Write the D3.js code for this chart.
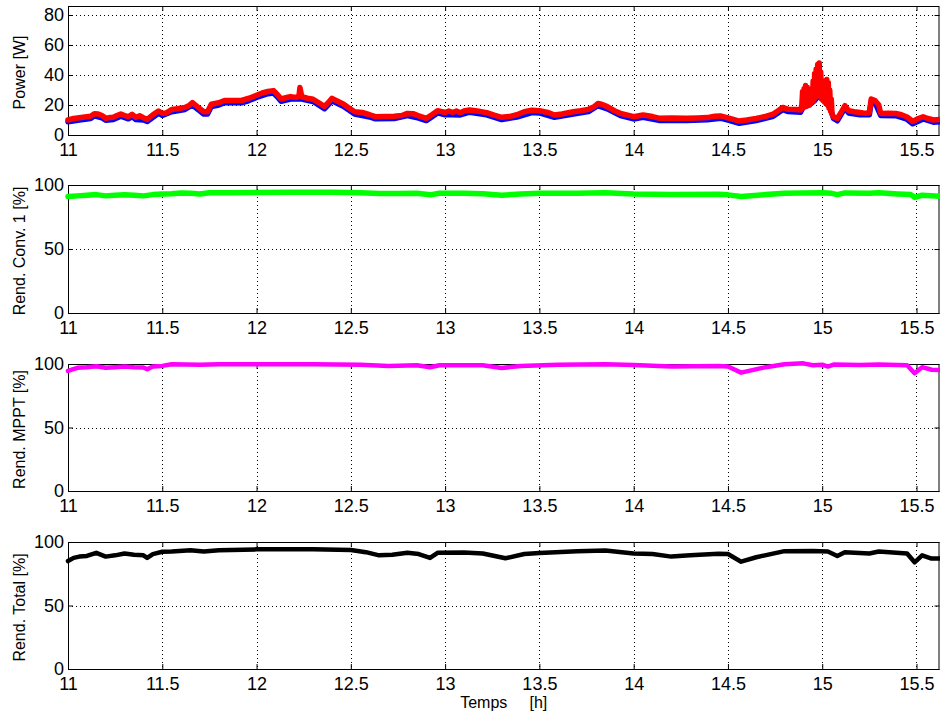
<!DOCTYPE html>
<html>
<head>
<meta charset="utf-8">
<script src="https://cdn.jsdelivr.net/npm/d3@7"></script>
<style>
  body { margin: 0; background: #fff; }
  svg { display: block; font-family: "Liberation Sans", Arial, sans-serif; }
  .tick text { font-size: 18px; fill: #000; }
  .grid line { stroke: #000; stroke-width: 1; stroke-dasharray: 1 3; }
  .ylabel, .xlabel { font-size: 16px; fill: #000; }
</style>
</head>
<body>
<div id="chart"></div>
<script>
// time [h], value
const powerIn = [
  [11.00, 10], [11.03, 11], [11.06, 11.5], [11.09, 12], [11.12, 12.5], [11.14, 14.2], [11.16, 14], [11.18, 13],
  [11.20, 11.2], [11.22, 11.6], [11.24, 11.8], [11.26, 13], [11.28, 14], [11.30, 13], [11.32, 12.2], [11.34, 13.8],
  [11.36, 11.8], [11.38, 12.8], [11.40, 11.5], [11.42, 10.4], [11.45, 13.5], [11.48, 16], [11.50, 14.5], [11.52, 14.6],
  [11.55, 17], [11.58, 17.5], [11.62, 18.4], [11.64, 19.5], [11.66, 21.6], [11.69, 18.5], [11.72, 15.5], [11.74, 15.5],
  [11.76, 20.5], [11.78, 21], [11.80, 21.5], [11.83, 23], [11.87, 23], [11.92, 23], [11.96, 24.5], [12.00, 26.5],
  [12.03, 28], [12.06, 29], [12.09, 29.6], [12.11, 27], [12.13, 24], [12.16, 25], [12.18, 25.6], [12.21, 25],
  [12.225, 26], [12.23, 31.6], [12.24, 25.5], [12.27, 24.5], [12.30, 23.8], [12.33, 21.5], [12.36, 19], [12.38, 21.5],
  [12.40, 24.4], [12.43, 22.5], [12.46, 20.7], [12.49, 18], [12.52, 15.5], [12.56, 15], [12.60, 13.5], [12.63, 12.2],
  [12.68, 12.3], [12.73, 12.5], [12.77, 13], [12.80, 14.4], [12.83, 14.2], [12.86, 12.8], [12.90, 11.1], [12.93, 13.5],
  [12.96, 16.2], [13.00, 15], [13.02, 16], [13.04, 15], [13.06, 16], [13.08, 14.9], [13.10, 16], [13.13, 16.7],
  [13.17, 16], [13.22, 14.9], [13.26, 13.2], [13.30, 11.8], [13.34, 12.3], [13.38, 13.5], [13.42, 15.5], [13.46, 16.5],
  [13.50, 16.2], [13.55, 14.8], [13.58, 13.3], [13.62, 14], [13.68, 15.5], [13.72, 16.2], [13.76, 17.1], [13.79, 18.8],
  [13.81, 21], [13.83, 20.5], [13.86, 18.9], [13.90, 16], [13.93, 14.4], [14.00, 12.2], [14.05, 13.3], [14.10, 12.3],
  [14.14, 11.1], [14.20, 11.3], [14.28, 11.1], [14.34, 11.4], [14.39, 11.6], [14.43, 12.5], [14.46, 12.7], [14.51, 11.1],
  [14.56, 9.3], [14.60, 10], [14.65, 11.1], [14.70, 12.4], [14.74, 14], [14.77, 16.5], [14.79, 18.4], [14.82, 17.1],
  [14.86, 17], [14.885, 16.7],
  [14.892, 20], [14.896, 29], [14.900, 18], [14.904, 31], [14.908, 19], [14.912, 33], [14.916, 19], [14.920, 32],
  [14.924, 20], [14.928, 31], [14.932, 20], [14.936, 30], [14.940, 21], [14.944, 30], [14.948, 22], [14.952, 36],
  [14.956, 23], [14.960, 41], [14.964, 25], [14.968, 44], [14.972, 26], [14.976, 47], [14.980, 27], [14.984, 48],
  [14.988, 26], [14.992, 42], [14.996, 24], [15.000, 35], [15.004, 23], [15.008, 34], [15.012, 22], [15.016, 36],
  [15.020, 21], [15.024, 37], [15.028, 20], [15.032, 35], [15.036, 18], [15.040, 30], [15.044, 16], [15.048, 24],
  [15.052, 14], [15.06, 12], [15.08, 11], [15.10, 15], [15.12, 19.5], [15.14, 16.2], [15.17, 15.5], [15.20, 15],
  [15.23, 14.4], [15.25, 15], [15.26, 24], [15.28, 23], [15.30, 20], [15.31, 14.5], [15.32, 14.4], [15.35, 14.5],
  [15.39, 14.4], [15.42, 13.5], [15.45, 12], [15.48, 9], [15.51, 11], [15.535, 12.2], [15.56, 11], [15.59, 10],
  [15.622, 10.4]
];

const powerOut = [
  [11.00, 8.8], [11.06, 10], [11.12, 11], [11.14, 12.8], [11.18, 11.5], [11.20, 9.8], [11.24, 10.3], [11.28, 12.5],
  [11.32, 10.8], [11.34, 12.3], [11.36, 10.3], [11.40, 10], [11.42, 9], [11.48, 14.5], [11.50, 13], [11.55, 15.5],
  [11.62, 17], [11.66, 20], [11.69, 17], [11.72, 14], [11.74, 14], [11.76, 19], [11.80, 20], [11.83, 21.5],
  [11.92, 21.5], [11.96, 23], [12.00, 25], [12.06, 27.5], [12.09, 28], [12.11, 25.5], [12.13, 22.5], [12.18, 24],
  [12.24, 24], [12.30, 22.3], [12.36, 17.5], [12.40, 22.8], [12.46, 19.2], [12.52, 14], [12.60, 12], [12.63, 10.8],
  [12.73, 11], [12.80, 12.9], [12.86, 11.3], [12.90, 9.6], [12.96, 14.7], [13.00, 13.5], [13.04, 13.5], [13.08, 13.4],
  [13.13, 15.2], [13.22, 13.4], [13.30, 10.3], [13.38, 12], [13.46, 15], [13.50, 14.7], [13.58, 11.8], [13.68, 14],
  [13.76, 15.6], [13.81, 19.5], [13.86, 17.4], [13.93, 12.9], [14.00, 10.7], [14.05, 11.8], [14.14, 9.6], [14.28, 9.6],
  [14.39, 10.1], [14.46, 11.2], [14.51, 9.6], [14.56, 7.8], [14.65, 9.6], [14.74, 12.5], [14.79, 16.9], [14.82, 15.6],
  [14.885, 15.2], [14.90, 19], [14.93, 20], [14.96, 23], [14.985, 27], [15.01, 23], [15.04, 19], [15.06, 11],
  [15.08, 9.5], [15.12, 18], [15.14, 14.7], [15.20, 13.5], [15.25, 13.5], [15.26, 22.5], [15.28, 21.5], [15.31, 13],
  [15.39, 12.9], [15.45, 10.5], [15.48, 7.5], [15.535, 10.7], [15.59, 8.5], [15.622, 8.9]
];

const rendConv1 = [
  [11.00, 91], [11.05, 91.5], [11.10, 92], [11.15, 92.5], [11.20, 91.5], [11.25, 92], [11.30, 92.3], [11.35, 92],
  [11.40, 91.5], [11.45, 92.5], [11.50, 93], [11.55, 93.2], [11.60, 93.8], [11.65, 93.5], [11.70, 93], [11.75, 94],
  [11.85, 94], [12.00, 94.2], [12.20, 94.3], [12.40, 94.3], [12.55, 94], [12.65, 93.3], [12.75, 93.3], [12.85, 93.5],
  [12.92, 92.3], [12.97, 93.5], [13.10, 93.5], [13.20, 93.2], [13.30, 92], [13.40, 93], [13.50, 93.5], [13.70, 93.5],
  [13.85, 94], [14.00, 93], [14.20, 92.5], [14.45, 92.8], [14.50, 92.3], [14.57, 91], [14.70, 92.5], [14.80, 93.5],
  [14.90, 93.8], [15.00, 94], [15.05, 93.5], [15.08, 92.5], [15.12, 93.8], [15.25, 93.5], [15.30, 94], [15.40, 93],
  [15.47, 92.5], [15.49, 90.3], [15.53, 92], [15.60, 91.5], [15.622, 91.3]
];

const rendMPPT = [
  [11.00, 94.5], [11.02, 95.5], [11.05, 97], [11.10, 97.5], [11.15, 98.2], [11.20, 97], [11.25, 97.5], [11.30, 98],
  [11.35, 97.5], [11.40, 97.3], [11.42, 95.8], [11.45, 98], [11.50, 98.5], [11.55, 99.8], [11.70, 99.5], [11.80, 99.8],
  [12.00, 99.8], [12.30, 99.8], [12.55, 99.5], [12.70, 98.5], [12.85, 99], [12.92, 97.5], [12.97, 99], [13.20, 99],
  [13.30, 96.8], [13.40, 98.5], [13.60, 99.5], [13.85, 99.8], [14.00, 99.2], [14.20, 98], [14.45, 98.5], [14.50, 98],
  [14.57, 93.2], [14.70, 97.5], [14.80, 99.8], [14.90, 100.5], [14.95, 99], [15.00, 99.5], [15.03, 98], [15.06, 99.6],
  [15.20, 99.3], [15.30, 99.6], [15.45, 99], [15.49, 92.7], [15.53, 97.5], [15.58, 95.5], [15.622, 95.3]
];

const rendTotal = [
  [11.00, 85], [11.03, 87.5], [11.06, 88.5], [11.10, 89], [11.15, 91.5], [11.20, 88.5], [11.25, 89.5], [11.30, 91],
  [11.35, 90], [11.40, 89.5], [11.42, 87.5], [11.45, 90.5], [11.50, 92.3], [11.55, 92.5], [11.65, 93.5], [11.72, 92.5],
  [11.80, 93.5], [12.00, 94.2], [12.30, 94.3], [12.50, 93.7], [12.58, 92], [12.65, 89.5], [12.72, 90], [12.80, 91.5],
  [12.86, 90.5], [12.92, 87.5], [12.96, 91.5], [13.10, 91.8], [13.20, 91], [13.32, 87.2], [13.42, 90.5], [13.50, 91.3],
  [13.70, 92.8], [13.85, 93.3], [14.00, 91], [14.10, 90.5], [14.20, 88.5], [14.30, 89.5], [14.45, 90.8], [14.50, 90.5],
  [14.57, 84.5], [14.65, 88], [14.80, 92.8], [14.95, 93], [15.03, 92.5], [15.08, 89], [15.12, 92], [15.25, 91],
  [15.30, 92.5], [15.45, 91], [15.49, 84], [15.53, 89.5], [15.58, 87], [15.622, 87]
];

const xTicks = [11, 11.5, 12, 12.5, 13, 13.5, 14, 14.5, 15, 15.5];
const xDomain = [11, 15.622];

const panels = [
  { label: 'Power [W]', top: 6, bottom: 135, yMax: 86, yTicks: [0, 20, 40, 60, 80],
    series: [{ data: powerOut, color: '#0000ff', width: 5.5 }, { data: powerIn, color: '#ff0000', width: 5.5 }] },
  { label: 'Rend. Conv. 1 [%]', top: 185, bottom: 313, yMax: 100, yTicks: [0, 50, 100],
    series: [{ data: rendConv1, color: '#00ff00', width: 5.5 }] },
  { label: 'Rend. MPPT [%]', top: 364, bottom: 491, yMax: 100, yTicks: [0, 50, 100],
    series: [{ data: rendMPPT, color: '#ff00ff', width: 4.5 }] },
  { label: 'Rend. Total [%]', top: 542, bottom: 669, yMax: 100, yTicks: [0, 50, 100],
    series: [{ data: rendTotal, color: '#000000', width: 4.5 }] }
];

const width = 940, height = 713;
const left = 68, right = 939.5;

const svg = d3.select('#chart').append('svg')
    .attr('width', width)
    .attr('height', height);

svg.append('rect').attr('width', width).attr('height', height).attr('fill', '#fff');

const x = d3.scaleLinear().domain(xDomain).range([left, right]);

panels.forEach(p => {
    const y = d3.scaleLinear().domain([0, p.yMax]).range([p.bottom, p.top]);
    const g = svg.append('g');

    // dotted grid
    const grid = g.append('g').attr('class', 'grid');
    grid.selectAll('.gx').data(xTicks.filter(t => t > xDomain[0])).enter()
        .append('line')
        .attr('x1', d => Math.round(x(d)) + 0.5).attr('x2', d => Math.round(x(d)) + 0.5)
        .attr('y1', p.top).attr('y2', p.bottom);
    grid.selectAll('.gy').data(p.yTicks.filter(t => t > 0 && t < p.yMax)).enter()
        .append('line')
        .attr('x1', left).attr('x2', right)
        .attr('y1', d => Math.round(y(d)) + 0.5).attr('y2', d => Math.round(y(d)) + 0.5);

    // box
    g.append('rect')
        .attr('x', left + 0.5).attr('y', p.top + 0.5)
        .attr('width', right - left - 1).attr('height', p.bottom - p.top)
        .attr('fill', 'none').attr('stroke', '#000').attr('stroke-width', 1);

    // axes, ticks pointing inward
    const xAxis = g.append('g')
        .attr('transform', 'translate(0,' + p.bottom + ')')
        .call(d3.axisBottom(x).tickValues(xTicks).tickSize(-5).tickFormat(d3.format('')));
    xAxis.select('.domain').remove();
    xAxis.selectAll('.tick text').attr('dy', '0.71em').attr('y', 8);

    g.append('g')
        .attr('transform', 'translate(0,' + p.top + ')')
        .call(d3.axisTop(x).tickValues(xTicks).tickSize(-5).tickFormat(''))
        .select('.domain').remove();

    const yAxis = g.append('g')
        .attr('transform', 'translate(' + left + ',0)')
        .call(d3.axisLeft(y).tickValues(p.yTicks).tickSize(-5));
    yAxis.select('.domain').remove();
    yAxis.selectAll('.tick text').attr('x', -4);

    g.append('g')
        .attr('transform', 'translate(' + right + ',0)')
        .call(d3.axisRight(y).tickValues(p.yTicks).tickSize(-5).tickFormat(''))
        .select('.domain').remove();

    // data lines
    const line = d3.line().x(d => x(d[0])).y(d => y(d[1]));
    p.series.forEach(s => {
        g.append('path')
            .datum(s.data)
            .attr('d', line)
            .attr('fill', 'none')
            .attr('stroke', s.color)
            .attr('stroke-width', s.width)
            .attr('stroke-linejoin', 'round')
            .attr('stroke-linecap', 'round');
    });

    g.append('text')
        .attr('class', 'ylabel')
        .attr('transform', 'translate(25,' + ((p.top + p.bottom) / 2 + 2) + ') rotate(-90)')
        .attr('text-anchor', 'middle')
        .text(p.label);
});

svg.append('text')
    .attr('class', 'xlabel')
    .attr('x', (left + right) / 2)
    .attr('y', 708)
    .attr('text-anchor', 'middle')
    .style('white-space', 'pre')
    .text('Temps     [h]');
</script>
</body>
</html>
